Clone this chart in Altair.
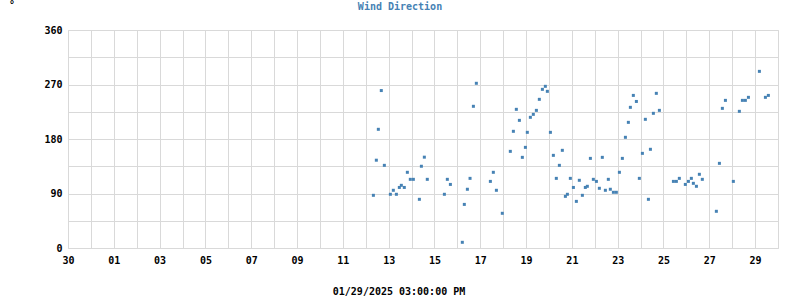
import altair as alt
import pandas as pd

# Hours after 2024-12-30 00:00 for each reading
hours = [320.0, 323.1, 325.2, 328.3, 331.5, 337.8, 340.9, 344.1, 347.2, 349.3,
         352.4, 355.6, 358.7, 361.9, 368.2, 370.3, 373.4, 376.5, 394.4, 397.5,
         400.7, 413.2, 415.3, 418.5, 421.3, 424.8, 427.9, 442.6, 445.7, 448.9,
         455.1, 463.5, 466.7, 469.8, 473.0, 476.1, 479.3, 481.3, 484.5, 487.6,
         490.8, 493.9, 497.1, 500.2, 502.3, 505.5, 508.6, 511.7, 514.9, 518.0,
         521.2, 523.3, 526.4, 529.6, 532.7, 535.8, 539.0, 542.1, 544.2, 547.4,
         550.5, 553.7, 556.8, 559.9, 563.1, 566.2, 568.3, 571.5, 574.6, 577.8,
         580.9, 584.1, 587.2, 589.3, 592.4, 595.6, 598.7, 601.9, 605.0, 608.2,
         610.3, 613.4, 616.5, 619.7, 634.4, 637.5, 640.6, 646.9, 650.1, 653.2,
         655.3, 658.5, 661.6, 664.7, 679.4, 682.6, 685.7, 688.9, 697.2, 703.5,
         706.7, 709.8, 713.0, 724.5, 730.8, 733.9]
direction = [87, 145, 196, 260, 136.5, 88.7, 95.3, 88.7, 100, 103.5,
             100, 125, 113.4, 113.4, 80.4, 135, 150, 113.4, 88.7, 113.4,
             105, 9.4, 72, 97, 115, 234, 272, 110, 125, 95.3,
             57.3, 159.6, 192.7, 229, 210.8, 149.7, 166.2, 191, 215.8, 220.7,
             227.3, 245.5, 262, 267, 258.7, 191, 153, 115, 136.5, 161.3,
             85.3, 88.7, 115, 100, 77, 111.8, 87, 100, 101.9, 148,
             113.4, 110, 98.6, 149.7, 95.3, 113.4, 97, 92, 92, 125,
             148, 182.8, 207.5, 232.3, 252, 242, 115, 156.3, 212.5, 80.4,
             163, 222.4, 255.4, 227.3, 110, 110, 115, 105, 110, 115,
             106.8, 101.9, 121.7, 113.4, 60.6, 139.8, 230.6, 243.8, 110, 225.7,
             243.8, 243.8, 248.8, 291.7, 248.8, 252]

y_ticks = [0, 45, 90, 135, 180, 225, 270, 315, 360]
title_text = "Wind Direction"
unit_text = "°"
stamp_text = "01/29/2025 03:00:00 PM"

start = pd.Timestamp("2024-12-30 00:00:00")
end = pd.Timestamp("2025-01-30 00:00:00")
day_ticks = [(start + pd.Timedelta(days=i)).strftime("%Y-%m-%dT%H:%M:%S") for i in range(32)]

df = pd.DataFrame({
    "time": [(start + pd.Timedelta(hours=h)).strftime("%Y-%m-%dT%H:%M:%S") for h in hours],
    "dir": direction,
})

FONT = "DejaVu Sans Mono"
BLUE = "#4682b4"

pts = alt.Chart(df).mark_square(size=9, color=BLUE, opacity=1).encode(
    x=alt.X("time:T",
            scale=alt.Scale(domain=[start.strftime("%Y-%m-%dT%H:%M:%S"), end.strftime("%Y-%m-%dT%H:%M:%S")]),
            axis=alt.Axis(values=day_ticks, title=None, ticks=False, domain=False,
                          labelExpr="round((datum.value - datetime(2024,11,30)) / 86400000) % 2 == 0 ? timeFormat(datum.value, '%d') : ''",
                          labelPadding=7, labelFont=FONT, labelFontSize=10, labelFontWeight="bold",
                          labelColor="black", labelFlush=False, labelOverlap=False,
                          gridColor="#d9d9d9", gridOpacity=1, gridWidth=1)),
    y=alt.Y("dir:Q",
            scale=alt.Scale(domain=[0, 360], nice=False),
            axis=alt.Axis(values=y_ticks, title=None, ticks=False, domain=False,
                          labelExpr="datum.value % 90 == 0 ? datum.value : ''",
                          labelPadding=6, labelFont=FONT, labelFontSize=10, labelFontWeight="bold",
                          labelColor="black", labelOverlap=False,
                          gridColor="#d9d9d9", gridOpacity=1, gridWidth=1)),
)

one = pd.DataFrame({"a": [0]})
title = alt.Chart(one).mark_text(font=FONT, fontSize=10, fontWeight="bold", color=BLUE,
                                 baseline="alphabetic", align="center").encode(
    x=alt.value(332), y=alt.value(-20), text=alt.value(title_text))
unit = alt.Chart(one).mark_text(font=FONT, fontSize=10, fontWeight="bold", color="black",
                                baseline="top", align="center").encode(
    x=alt.value(-56), y=alt.value(-30), text=alt.value(unit_text))
stamp = alt.Chart(one).mark_text(font=FONT, fontSize=10, fontWeight="bold", color="black",
                                 baseline="alphabetic", align="center").encode(
    x=alt.value(331), y=alt.value(265), text=alt.value(stamp_text))

chart = alt.layer(pts, title, unit, stamp).properties(
    width=710, height=218,
    autosize=alt.AutoSizeParams(type="none"),
    padding={"left": 68, "top": 30, "right": 22, "bottom": 52},
).configure_view(stroke=None).configure(background="white")

chart.save("out.html", embed_options={"renderer": "svg", "actions": False})
